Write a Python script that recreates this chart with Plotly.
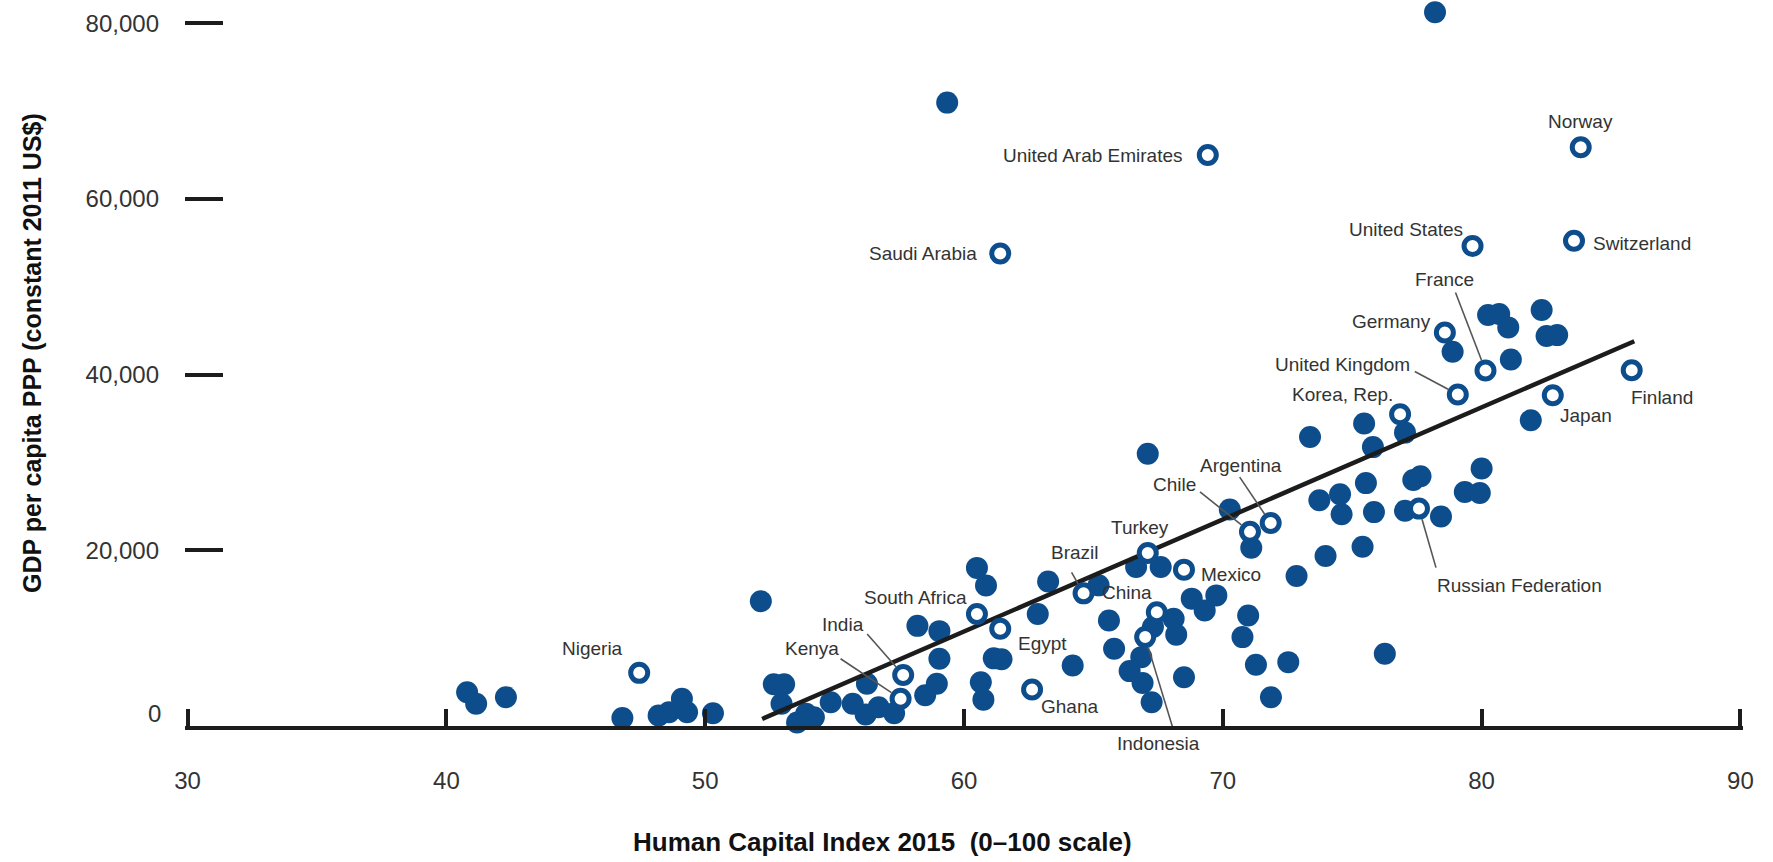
import math
import plotly.graph_objects as go

# ---------------- data ----------------
hci_filled = [40.8, 41.15, 42.3,
              46.8, 48.2, 48.6, 49.1, 49.3, 50.3,
              52.15, 52.65, 53.05, 52.95, 53.55, 53.9, 54.2, 54.85, 55.7, 56.2, 56.25, 56.7, 57.3,
              58.2, 59.05, 59.05, 58.95, 58.5, 59.35,
              60.5, 60.85, 60.65, 60.75, 61.15, 61.45,
              63.25, 62.85, 64.2, 65.2, 65.6, 65.8, 66.4,
              66.65, 67.6, 67.1, 68.8, 69.75, 69.3, 68.1, 68.2, 67.3, 66.85, 66.9, 67.25, 68.5, 70.27,
              71.1, 70.98, 70.76, 71.28, 72.53, 71.86, 72.85, 73.97, 73.73, 73.37, 74.53, 74.59,
              75.4, 75.53, 75.84, 75.46, 75.8, 76.26, 77.04, 77.36, 77.64, 78.43, 77.04,
              78.2, 78.88, 80.25, 80.68, 81.03, 81.13, 82.32, 82.51, 82.92, 81.9, 80.0, 79.35, 79.93]
gdp_filled = [3850, 2530, 3280,
              900, 1200, 1570, 3100, 1570, 1460,
              14200, 4750, 4750, 2530, 400, 1390, 1000, 2700, 2530, 1300, 4810, 2140, 1450,
              11400, 10800, 7660, 4810, 3500, 70970,
              18000, 16000, 4990, 3000, 7700, 7600,
              16450, 12750, 6890, 16010, 12020, 8800, 6250,
              18100, 18100, 31000, 14500, 14870, 13160, 12200, 10400, 11260, 7840, 4900, 2700, 5560, 24640,
              20300, 12590, 10120, 6970, 7270, 3280, 17070, 19350, 25700, 32900, 26380, 24100,
              20400, 27650, 24350, 34440, 31750, 8230, 24500, 28000, 28430, 23850, 33400,
              81250, 42600, 46780, 46900, 45380, 41730, 47350, 44390, 44500, 34800, 29310, 26650, 26530]

countries = ["Nigeria", "Kenya", "India", "South Africa", "Egypt", "Ghana", "Saudi Arabia",
             "Brazil", "Indonesia", "China", "Turkey", "Mexico", "United Arab Emirates",
             "Chile", "Argentina", "Korea, Rep.", "Russian Federation", "Germany",
             "United Kingdom", "United States", "France", "Japan", "Switzerland", "Norway", "Finland"]
hci_labeled = [47.45, 57.55, 57.65, 60.5, 61.4, 62.63, 61.4,
               64.62, 67.0, 67.45, 67.1, 68.5, 69.42,
               71.05, 71.85, 76.85, 77.58, 78.58,
               79.08, 79.65, 80.15, 82.75, 83.57, 83.83, 85.8]
gdp_labeled = [6050, 3100, 5800, 12750, 11080, 4150, 53800,
               15100, 10120, 12950, 19700, 17800, 65000,
               22100, 23100, 35500, 24750, 44800,
               37740, 54650, 40470, 37660, 55250, 65890, 40510]

trend_hci = [52.2, 85.9]
trend_gdp = [800, 43800]

x_ticks = [30, 40, 50, 60, 70, 80, 90]
y_ticks = [0, 20000, 40000, 60000, 80000]
y_ticklabels = ["", "20,000", "40,000", "60,000", "80,000"]

x_title = "Human Capital Index 2015\u00a0 (0\u2013100 scale)"
y_title = "GDP per capita PPP (constant 2011 US$)"

# ---------------- style ----------------
BLUE = "#0d4d8c"
INK = "#1c1c1c"
TXT = "#333333"
FONT = "Liberation Sans Narrow, Arial Narrow, Liberation Sans, Arial, sans-serif"
W, H = 1773, 862
ML, MR, MT, MB = 185, 30, 0, 136
X_RANGE = [29.9, 90.1]   # a hair wider so the end ticks at 30 and 90 are drawn

# label placement: anchor, x shift px, y shift px (up positive), leader start (px, up positive) or None
placement = {
    "Nigeria": ("right", -14, 24, None),
    "Kenya": ("right", -60, 50, (-60, 40)),
    "India": ("right", -37, 51, (-36, 41)),
    "South Africa": ("right", -8, 17, None),
    "Egypt": ("left", 16, -15, None),
    "Ghana": ("left", 7, -17, None),
    "Saudi Arabia": ("right", -21, 0, None),
    "Brazil": ("center", -9, 41, (-12, 21)),
    "Indonesia": ("center", 13, -106, (28, -92)),
    "China": ("right", -3, 20, None),
    "Turkey": ("center", -8, 25, None),
    "Mexico": ("left", 15, -5, None),
    "United Arab Emirates": ("right", -23, 0, None),
    "Chile": ("right", -52, 47, (-50, 40)),
    "Argentina": ("center", -30, 58, (-31, 46)),
    "Korea, Rep.": ("right", -5, 20, None),
    "Russian Federation": ("left", 16, -77, (17, -59)),
    "Germany": ("right", -12, 11, None),
    "United Kingdom": ("right", -46, 30, (-43, 23)),
    "United States": ("right", -8, 16, None),
    "France": ("center", -41, 91, (-30, 78)),
    "Japan": ("left", 5, -20, None),
    "Switzerland": ("left", 17, -3, None),
    "Norway": ("center", 0, 26, None),
    "Finland": ("left", -3, -27, None),
}
R = 11  # marker radius in px

fig = go.Figure()
fig.add_trace(go.Scatter(x=hci_filled, y=gdp_filled, mode="markers", cliponaxis=False,
                         marker=dict(size=22, color=BLUE, line=dict(width=0)),
                         showlegend=False, hoverinfo="x+y"))
fig.add_trace(go.Scatter(x=trend_hci, y=trend_gdp, mode="lines", cliponaxis=False,
                         line=dict(color=INK, width=4.5), showlegend=False, hoverinfo="skip"))
fig.add_trace(go.Scatter(x=hci_labeled, y=gdp_labeled, mode="markers", cliponaxis=False,
                         text=countries, hoverinfo="text+x+y",
                         marker=dict(size=17, color="white", line=dict(width=5, color=BLUE)),
                         showlegend=False))

annotations = []
shapes = []
for c, hx, gy in zip(countries, hci_labeled, gdp_labeled):
    anchor, dx, dy, lead = placement[c]
    annotations.append(dict(x=hx, y=gy, xref="x", yref="y", text=c, showarrow=False,
                            xanchor=anchor, yanchor="middle", xshift=dx, yshift=dy,
                            font=dict(family=FONT, size=19, color=TXT)))
    if lead is not None:
        sx, sy = lead
        d = math.hypot(sx, sy)
        ex, ey = sx / d * R, sy / d * R
        shapes.append(dict(type="line", xref="x", yref="y", xsizemode="pixel", ysizemode="pixel",
                           xanchor=hx, yanchor=gy, x0=sx, y0=sy, x1=ex, y1=ey,
                           line=dict(color="#555555", width=1.6), layer="above"))

# "0" label of the y axis sits slightly above the axis line
annotations.append(dict(x=30, y=0, xref="x", yref="y", text="0", showarrow=False,
                        xanchor="right", yanchor="middle", xshift=-25, yshift=13,
                        font=dict(family=FONT, size=24, color=TXT)))

# axis titles (placed off-centre as in the original)
pw, ph = W - ML - MR, H - MT - MB
annotations.append(dict(x=(882 - ML) / pw, y=-(842 - (H - MB)) / ph, xref="paper", yref="paper",
                        text=x_title, showarrow=False, xanchor="center", yanchor="middle",
                        font=dict(family=FONT, size=26, color="#111111", weight="bold")))
annotations.append(dict(x=-(ML - 32) / pw, y=(H - MB - 353) / ph, xref="paper", yref="paper",
                        text=y_title, showarrow=False, xanchor="center", yanchor="middle",
                        textangle=-90,
                        font=dict(family=FONT, size=25, color="#111111", weight="bold")))

fig.update_layout(
    width=W, height=H,
    margin=dict(l=ML, r=MR, t=MT, b=MB),
    paper_bgcolor="white", plot_bgcolor="white",
    annotations=annotations, shapes=shapes,
    xaxis=dict(range=X_RANGE, tickvals=x_ticks, ticks="inside", ticklen=17, tickwidth=3.5,
               tickcolor=INK, showline=True, linewidth=3.5, linecolor=INK, showgrid=False,
               zeroline=False, ticklabelstandoff=30, automargin=False,
               tickfont=dict(family=FONT, size=24, color=TXT)),
    yaxis=dict(range=[0, 82650], tickvals=y_ticks, ticktext=y_ticklabels, ticks="inside",
               ticklen=38, tickwidth=3.5, tickcolor=INK, showline=False, showgrid=False,
               zeroline=False, ticklabelstandoff=25, automargin=False,
               tickfont=dict(family=FONT, size=24, color=TXT)),
)

fig.write_html("out.html", config={"displayModeBar": False},
               post_script="document.body.style.margin='0px';")
